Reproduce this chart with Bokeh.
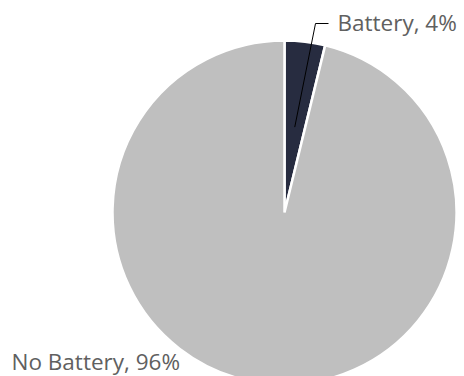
import numpy as np
from bokeh.plotting import figure
from bokeh.models import Range1d, ColumnDataSource
from bokeh.core.properties import value
from bokeh.embed import file_html
from bokeh.resources import INLINE

categories = ["Battery", "No Battery"]
shares = [3.8, 96.2]
colors = ["#272C40", "#BFBFBF"]
labels = ["Battery, 4%", "No Battery, 96%"]

W, H = 464, 376
cx, cy, r = 284, H - 212, 172

fr = np.array(shares) / sum(shares)
ends = np.pi / 2 - np.concatenate([[0], np.cumsum(fr)[:-1]]) * 2 * np.pi
starts = ends - fr * 2 * np.pi

p = figure(width=W, height=H, output_backend="svg", toolbar_location=None,
           x_range=Range1d(0, W), y_range=Range1d(0, H), min_border=0)
p.axis.visible = False
p.grid.visible = False
p.outline_line_color = None

src = ColumnDataSource(dict(start=starts, end=ends, color=colors, cat=categories))
p.wedge(x=cx, y=cy, radius=r, start_angle="start", end_angle="end",
        fill_color="color", line_color="white", line_width=2.5, source=src)

# leader line for Battery
mid = (starts[0] + ends[0]) / 2
x0 = cx + 0.5 * r * np.cos(mid)
y0 = cy + 0.5 * r * np.sin(mid)
p.line([x0, 315, 328], [y0, H - 23, H - 23], line_color="black", line_width=1)

p.text(x=[337], y=[H - 22], text=[labels[0]], text_font=value("Open Sans"),
       text_font_size="22.5px", text_color="#606060", text_baseline="middle", text_align="left")
p.text(x=[11], y=[H - 361], text=[labels[1]], text_font=value("Open Sans"),
       text_font_size="22.5px", text_color="#606060", text_baseline="middle", text_align="left")

open("out.html", "w").write(file_html(p, INLINE))
